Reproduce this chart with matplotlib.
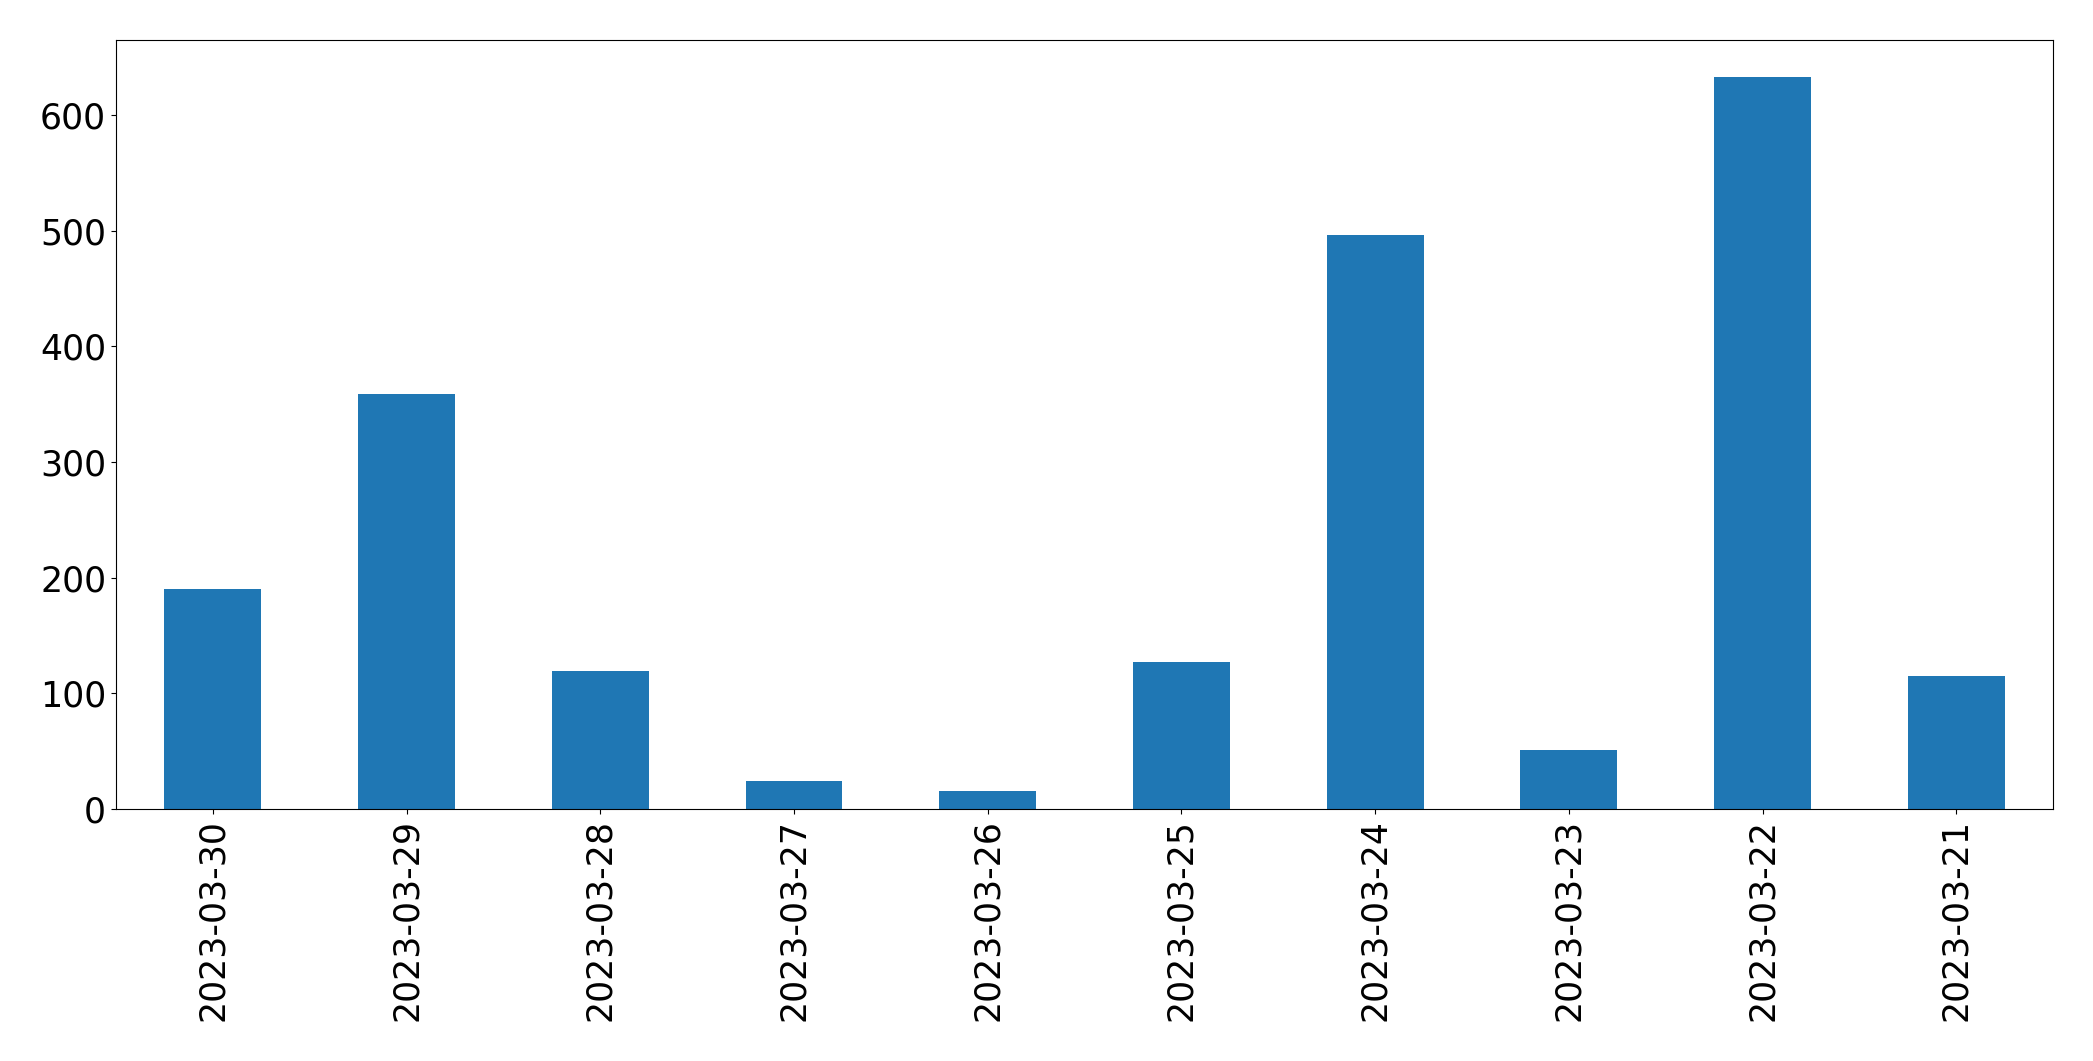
import matplotlib
matplotlib.use("Agg")
import matplotlib.pyplot as plt

dates = [
    "2023-03-30", "2023-03-29", "2023-03-28", "2023-03-27", "2023-03-26",
    "2023-03-25", "2023-03-24", "2023-03-23", "2023-03-22", "2023-03-21",
]
counts = [190, 359, 119, 24, 16, 127, 496, 51, 633, 115]

fig, ax = plt.subplots(figsize=(20.93, 10.61), dpi=100)
fig.subplots_adjust(left=0.0554, right=0.981, top=0.962, bottom=0.2375)

x = range(len(dates))
ax.bar(x, counts, width=0.5, color="#1f77b4")
ax.set_xlim(-0.5, len(dates) - 0.5)
ax.set_xticks(list(x))
ax.set_xticklabels(dates, rotation=90)
ax.tick_params(axis="both", labelsize=25)

fig.savefig("out.png", dpi=100)
